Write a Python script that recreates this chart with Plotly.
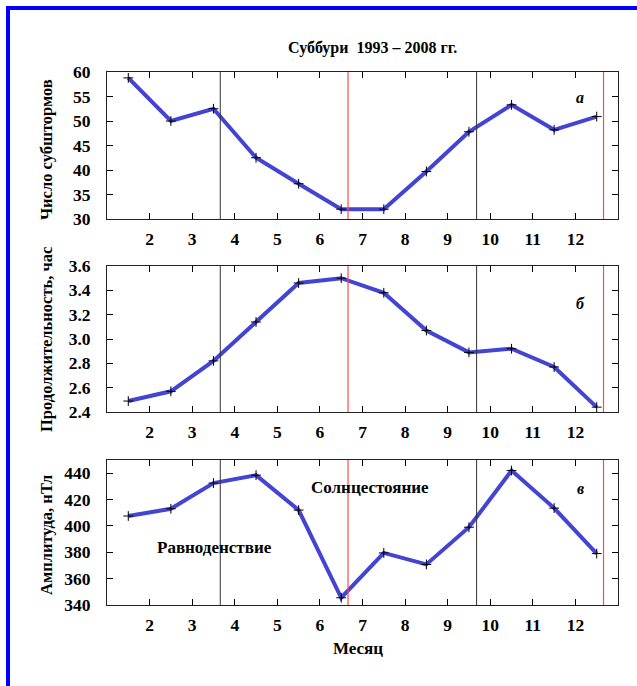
import plotly.graph_objects as go

months = [1.5, 2.5, 3.5, 4.5, 5.5, 6.5, 7.5, 8.5, 9.5, 10.5, 11.5, 12.5]
count = [58.8, 50.0, 52.5, 42.5, 37.2, 32.0, 32.0, 39.7, 47.8, 53.3, 48.2, 50.9]
duration = [2.49, 2.57, 2.82, 3.14, 3.46, 3.50, 3.38, 3.07, 2.89, 2.92, 2.77, 2.44]
amplitude = [407.5, 413.0, 432.5, 438.5, 412.0, 345.5, 379.5, 370.8, 399.0, 442.0, 413.5, 379.0]
equinoxes = [3.66, 9.68]
solstices = [6.66, 12.66]
xticks = list(range(2, 13))

W, H = 637, 686
def px(x):
    return x / W
def py(y):
    return 1 - y / H

serif = "Liberation Serif"
line_col = "rgb(68,68,210)"

fig = go.Figure()
panels = [
    (count, [30, 60], list(range(30, 61, 5)), None, (72, 219), "Число субштормов", 150, "а", 98),
    (duration, [2.4, 3.6], [2.4, 2.6, 2.8, 3.0, 3.2, 3.4, 3.6], "%.1f", (266, 412), "Продолжительность, час", 340, "б", 303),
    (amplitude, [340, 450], [340, 360, 380, 400, 420, 440], None, (460, 605), "Амплитуда, нТл", 535, "в", 488),
]

for i, (vals, yr, yt, fmt, (top, bot), ytitle, ty, letter, ly) in enumerate(panels, start=1):
    sfx = "" if i == 1 else str(i)
    fig.add_trace(go.Scatter(
        x=months, y=vals, mode="lines+markers",
        line=dict(color=line_col, width=4),
        marker=dict(symbol="cross-thin", size=7, line=dict(color="black", width=1), color="black"),
        xaxis="x" + sfx, yaxis="y" + sfx, showlegend=False,
    ))
    ax = dict(
        domain=[px(107), px(618)], range=[1, 13], tickvals=xticks,
        ticks="inside", ticklen=6, tickcolor="black", showline=True, linecolor="#222",
        linewidth=1, mirror="ticks", showgrid=False, zeroline=False,
        tickfont=dict(family=serif, size=17.5, color="black", weight="bold"),
        ticklabelstandoff=4, anchor="y" + sfx, automargin=False,
    )
    ay = dict(
        domain=[py(bot), py(top)], range=yr, tickvals=yt,
        ticks="inside", ticklen=6, tickcolor="black", showline=True, linecolor="#222",
        linewidth=1, mirror="ticks", showgrid=False, zeroline=False,
        tickfont=dict(family=serif, size=17.5, color="black", weight="bold"),
        ticklabelstandoff=12, anchor="x" + sfx, automargin=False,
    )
    if fmt:
        ay["tickformat"] = ".1f"
    fig.layout["xaxis" + sfx] = ax
    fig.layout["yaxis" + sfx] = ay
    for xv in equinoxes:
        fig.add_shape(type="line", xref="x" + sfx, yref="y" + sfx + " domain",
                      x0=xv, x1=xv, y0=0, y1=1, line=dict(color="#333", width=1))
    for xv in solstices:
        fig.add_shape(type="line", xref="x" + sfx, yref="y" + sfx + " domain",
                      x0=xv, x1=xv, y0=0, y1=1, line=dict(color="#ff4a4a", width=1.2))
    fig.add_annotation(xref="paper", yref="paper", x=px(46), y=py(ty), text=ytitle,
                       textangle=-90, showarrow=False, xanchor="center", yanchor="middle",
                       font=dict(family=serif, size=16.5, color="black", weight="bold"))
    fig.add_annotation(xref="paper", yref="paper", x=px(580), y=py(ly), text="<i>" + letter + "</i>",
                       showarrow=False, xanchor="center", yanchor="middle",
                       font=dict(family=serif, size=16, color="black", weight="bold"))

def label(x, y, text, size):
    fig.add_annotation(xref="paper", yref="paper", x=px(x), y=py(y), text=text,
                       showarrow=False, xanchor="center", yanchor="middle",
                       font=dict(family=serif, size=size, color="black", weight="bold"))

label(373, 48, "Суббури  1993 – 2008 гг.", 16)
label(370, 487, "Солнцестояние", 17)
label(214, 547, "Равноденствие", 17)
label(358, 648, "Месяц", 17)

fig.add_shape(type="rect", xref="paper", yref="paper", x0=px(8), x1=px(720), y0=py(760), y1=py(8),
              line=dict(color="#0000ff", width=4), layer="above")

fig.update_layout(width=W, height=H, margin=dict(l=0, r=0, t=0, b=0, autoexpand=False),
                  plot_bgcolor="white", paper_bgcolor="white")
fig.write_html("out.html")
